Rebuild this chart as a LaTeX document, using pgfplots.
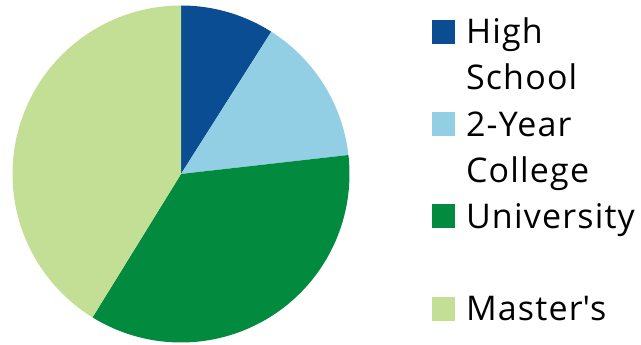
\documentclass[border=0pt]{standalone}
\usepackage{pgfplots}
\pgfplotsset{compat=1.18}
\usepackage{pgfplotstable}
\usepackage{fontspec}
\setmainfont[LetterSpace=3.5]{Open Sans}
\definecolor{cHS}{HTML}{0A4D92}
\definecolor{cTY}{HTML}{92CFE5}
\definecolor{cUN}{HTML}{028A3F}
\definecolor{cMA}{HTML}{C3DF96}
\newcommand\piefont{\fontsize{34}{45.5}\selectfont}
\newcommand\ls{\rule[-13.65pt]{0pt}{45.5pt}}
\pgfplotstableread{
label value
HS 9.0
TY 14.2
UN 35.6
MA 41.2
}\piedata
\begin{document}
\begin{tikzpicture}
\pgfplotstablegetelem{0}{value}\of\piedata \pgfmathsetmacro{\vA}{\pgfplotsretval}
\pgfplotstablegetelem{1}{value}\of\piedata \pgfmathsetmacro{\vB}{\pgfplotsretval}
\pgfplotstablegetelem{2}{value}\of\piedata \pgfmathsetmacro{\vC}{\pgfplotsretval}
\pgfplotstablegetelem{3}{value}\of\piedata \pgfmathsetmacro{\vD}{\pgfplotsretval}
\pgfmathsetmacro{\aA}{90}
\pgfmathsetmacro{\aB}{\aA-3.6*\vA}
\pgfmathsetmacro{\aC}{\aB-3.6*\vB}
\pgfmathsetmacro{\aD}{\aC-3.6*\vC}
\pgfmathsetmacro{\aE}{\aD-3.6*\vD}
\begin{axis}[scale only axis, width=641pt, height=345pt,
  xmin=0, xmax=641, ymin=0, ymax=345, hide axis, clip=false,
  legend style={draw=none, fill=none, at={(axis cs:432,335)}, anchor=north west,
    inner sep=0pt, outer sep=0pt, row sep=8.8pt, column sep=9pt, font=\piefont,
    cells={anchor=base west, inner sep=0pt}},
  legend image code/.code={\fill[#1] (0pt,0pt) rectangle (23pt,24pt);}
]
\path (rel axis cs:0,0) rectangle (rel axis cs:1,1);
\addplot[fill=cHS, draw=none, domain=\aB:\aA, samples=60] ({181+168.5*cos(x)},{171+168.5*sin(x)}) -- (axis cs:181,171) -- cycle;
\addlegendentry{\ls High}
\addlegendimage{empty legend}
\addlegendentry{\ls School}
\addplot[fill=cTY, draw=none, domain=\aC:\aB, samples=60] ({181+168.5*cos(x)},{171+168.5*sin(x)}) -- (axis cs:181,171) -- cycle;
\addlegendentry{\ls 2-Year}
\addlegendimage{empty legend}
\addlegendentry{\ls College}
\addplot[fill=cUN, draw=none, domain=\aD:\aC, samples=100] ({181+168.5*cos(x)},{171+168.5*sin(x)}) -- (axis cs:181,171) -- cycle;
\addlegendentry{\ls University}
\addlegendimage{empty legend}
\addlegendentry{\ls}
\addplot[fill=cMA, draw=none, domain=\aE:\aD, samples=100] ({181+168.5*cos(x)},{171+168.5*sin(x)}) -- (axis cs:181,171) -- cycle;
\addlegendentry{\ls Master\textquotesingle s}
\end{axis}
\end{tikzpicture}
\end{document}
